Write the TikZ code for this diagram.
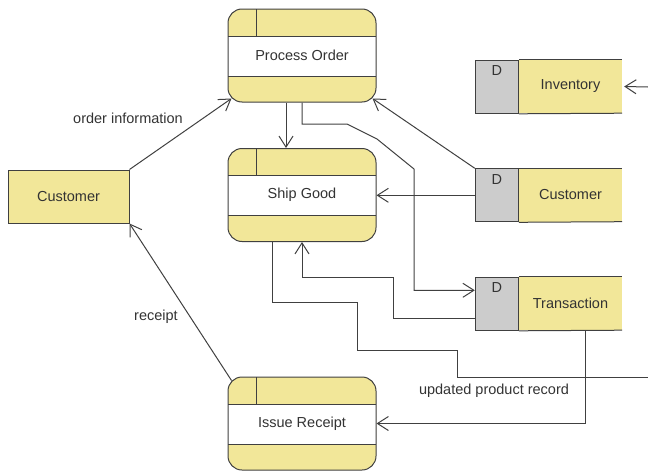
\documentclass[tikz,border=0pt]{standalone}
\usepackage{fontspec}
\setmainfont{Liberation Sans}
\usetikzlibrary{arrows.meta,calc}
\definecolor{procy}{RGB}{242,231,153}
\definecolor{linec}{RGB}{64,64,64}
\definecolor{txt}{RGB}{51,51,51}
\definecolor{dgray}{RGB}{204,204,204}
\begin{document}
\begin{tikzpicture}[x=1pt,y=-1pt,
  every node/.style={font=\fontsize{14.5}{16}\selectfont, text=txt},
  conn/.style={draw=linec, line width=1pt},
  arr/.style={conn, -{Straight Barb[length=11pt,width=14pt]}},
  proc/.style={draw=linec, line width=1pt, fill=procy, rounded corners=14pt,
    minimum width=148pt, minimum height=93pt, inner sep=0pt,
    path picture={
      \begin{scope}[sharp corners]
      \fill[white] ($(path picture bounding box.north west)+(0,27)$) rectangle ($(path picture bounding box.north east)+(0,67)$);
      \draw[linec, line width=1pt] ($(path picture bounding box.north west)+(0,27)$) -- ($(path picture bounding box.north east)+(0,27)$);
      \draw[linec, line width=1pt] ($(path picture bounding box.north west)+(0,67)$) -- ($(path picture bounding box.north east)+(0,67)$);
      \draw[linec, line width=1pt] ($(path picture bounding box.north west)+(28,0)$) -- ($(path picture bounding box.north west)+(28,27)$);
      \end{scope}
    }},
  ext/.style={draw=linec, line width=1pt, fill=procy, minimum width=121pt, minimum height=53pt, inner sep=0pt},
  dsbody/.style={fill=procy, minimum width=103pt, minimum height=53pt, inner sep=0pt},
  dsid/.style={draw=linec, line width=1pt, fill=dgray, minimum width=43pt, minimum height=53pt, inner sep=0pt, anchor=north east,
    label={[anchor=north, inner sep=0pt, yshift=-6pt]north:D}},
  lbl/.style={inner sep=1pt}
]
\useasboundingbox (0,0) rectangle (648,471);

% processes
\node[proc] (po) at (302,55.5) {Process Order};
\node[proc] (sg) at (302,195) {Ship Good};
\node[proc] (ir) at (302,423.5) {Issue Receipt};

% external entity
\node[ext] (cu) at (68.5,196.5) {Customer};

% data stores
\node[dsbody] (inv) at (570.5,86.5) {Inventory};
\node[dsid] (invD) at (inv.north west) {};
\draw[conn] (invD.north east) -- (inv.north east);
\draw[conn] (invD.south east) -- (inv.south east);

\node[dsbody] (cds) at (570.5,195) {Customer};
\node[dsid] (cdsD) at (cds.north west) {};
\draw[conn] (cdsD.north east) -- (cds.north east);
\draw[conn] (cdsD.south east) -- (cds.south east);

\node[dsbody] (tr) at (570.5,303.5) {Transaction};
\node[dsid] (trD) at (tr.north west) {};
\draw[conn] (trD.north east) -- (tr.north east);
\draw[conn] (trD.south east) -- (tr.south east);

% connectors
\draw[arr] (cu.north east) -- ($(po.south west)+(4,-4)$);
\node[lbl] (l1) at (128,118) {order information};

\draw[arr] ($(ir.north west)+(4,4)$) -- (cu.south east);
\node[lbl] (l2) at (156,317) {receipt};

\draw[arr] ($(po.south)+(-16,0)$) -- ($(sg.north)+(-16,0)$);

\draw[arr] (po.south) |- (347,124) -- (377,139) -- (414,169) |- ($(trD.west)+(0,-13.5)$);

\draw[arr] (cdsD.north west) -- ($(po.south east)+(-4,-4)$);

\draw[arr] (cdsD.west) -- (cdsD.west -| sg.east);

\draw[arr] ($(trD.west)+(0,14.5)$) -| (393,277) -| (sg.south);

\coordinate (offR) at (648,377);
\draw[conn] ($(sg.south)+(-30,0)$) |- (357,302) |- (457,350) |- (offR);

\draw[arr] ($(tr.south)+(14.5,0)$) |- (ir.east);
\node[lbl] (l3) at (494,391) {updated product record};

\coordinate (offI) at (648,87);
\draw[arr] (offI) -- ($(inv.east)+(2,0)$);
\end{tikzpicture}
\end{document}
